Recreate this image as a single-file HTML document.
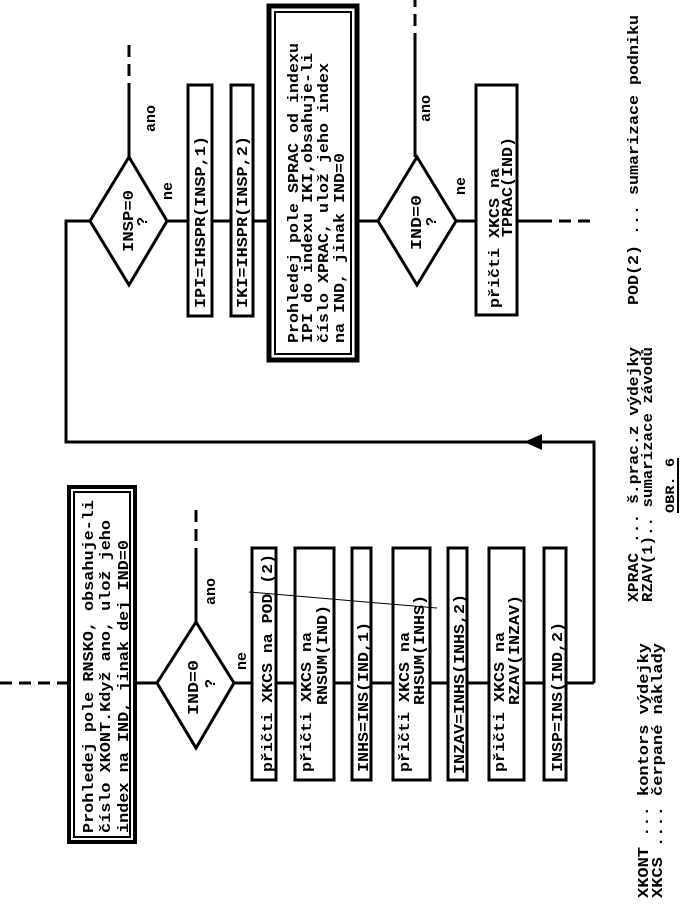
<!DOCTYPE html>
<html><head><meta charset="utf-8"><style>
html,body{margin:0;padding:0;background:#fff;}
svg{display:block}
text{font-family:"Liberation Mono",monospace;font-weight:bold;font-size:15px;fill:#000}
.l{stroke:#000;stroke-width:3;fill:none}
.b{stroke:#000;stroke-width:3;fill:#fff}
.d{stroke:#000;stroke-width:3;fill:none;stroke-dasharray:12,7}
</style></head><body>
<svg width="685" height="905" viewBox="0 0 685 905" xmlns="http://www.w3.org/2000/svg">
<line class="d" x1="0" y1="683" x2="68" y2="683"/>
<line class="l" x1="68" y1="683" x2="594" y2="683"/>
<rect x="69" y="487" width="66" height="355" fill="#fff" stroke="#000" stroke-width="4"/>
<rect x="74" y="492" width="56" height="345" fill="none" stroke="#000" stroke-width="2"/>
<text transform="translate(93,833) rotate(-90)" textLength="333" lengthAdjust="spacingAndGlyphs">Prohledej pole RNSKO, obsahuje-li</text>
<text transform="translate(110,833) rotate(-90)" textLength="313" lengthAdjust="spacingAndGlyphs">číslo XKONT.Když ano, ulož jeho</text>
<text transform="translate(128,833) rotate(-90)" textLength="293" lengthAdjust="spacingAndGlyphs">index na IND, jinak dej IND=0</text>
<polygon class="b" points="196,622 234,683 196,748 157,683"/>
<text transform="translate(198,715) rotate(-90)" textLength="55" lengthAdjust="spacingAndGlyphs">IND=0</text>
<text transform="translate(215,688) rotate(-90)">?</text>
<line class="l" x1="196" y1="622" x2="196" y2="560"/>
<line class="d" x1="196" y1="560" x2="196" y2="508"/>
<text transform="translate(215,605) rotate(-90)">ano</text>
<text transform="translate(246,670) rotate(-90)">ne</text>
<rect class="b" x="252" y="548" width="24" height="232"/>
<text transform="translate(272,772) rotate(-90)" textLength="218" lengthAdjust="spacingAndGlyphs">přičti XKCS na POD (2)</text>
<rect class="b" x="295" y="548" width="39" height="232"/>
<text transform="translate(311,772) rotate(-90)" textLength="140" lengthAdjust="spacingAndGlyphs">přičti XKCS na</text>
<text transform="translate(327,705) rotate(-90)" textLength="100" lengthAdjust="spacingAndGlyphs">RNSUM(IND)</text>
<rect class="b" x="352" y="548" width="19" height="232"/>
<text transform="translate(368,772) rotate(-90)" textLength="150" lengthAdjust="spacingAndGlyphs">INHS=INS(IND,1)</text>
<rect class="b" x="393" y="548" width="37" height="232"/>
<text transform="translate(409,772) rotate(-90)" textLength="140" lengthAdjust="spacingAndGlyphs">přičti XKCS na</text>
<text transform="translate(424,705) rotate(-90)" textLength="110" lengthAdjust="spacingAndGlyphs">RHSUM(INHS)</text>
<rect class="b" x="448" y="548" width="19" height="232"/>
<text transform="translate(464,774) rotate(-90)" textLength="180" lengthAdjust="spacingAndGlyphs">INZAV=INHS(INHS,2)</text>
<rect class="b" x="489" y="548" width="35" height="232"/>
<text transform="translate(504,772) rotate(-90)" textLength="140" lengthAdjust="spacingAndGlyphs">přičti XKCS na</text>
<text transform="translate(519,705) rotate(-90)" textLength="110" lengthAdjust="spacingAndGlyphs">RZAV(INZAV)</text>
<rect class="b" x="544" y="548" width="22" height="232"/>
<text transform="translate(562,772) rotate(-90)" textLength="150" lengthAdjust="spacingAndGlyphs">INSP=INS(IND,2)</text>
<line x1="249" y1="592" x2="437" y2="608" stroke="#000" stroke-width="1"/>
<polyline class="l" points="594,683 594,442 66,442 66,221 90,221"/>
<polygon points="524,442 542,434 542,450" fill="#000"/>
<polygon class="b" points="129,157 167,221 129,285 90,221"/>
<text transform="translate(133,252) rotate(-90)" textLength="62" lengthAdjust="spacingAndGlyphs">INSP=0</text>
<text transform="translate(147,226) rotate(-90)">?</text>
<line class="l" x1="129" y1="157" x2="129" y2="95"/>
<line class="d" x1="129" y1="95" x2="129" y2="45"/>
<text transform="translate(155,132) rotate(-90)">ano</text>
<text transform="translate(172,200) rotate(-90)">ne</text>
<line class="l" x1="167" y1="221" x2="273" y2="221"/>
<rect class="b" x="188" y="85" width="24" height="231"/>
<text transform="translate(205,308) rotate(-90)" textLength="172" lengthAdjust="spacingAndGlyphs">IPI=IHSPR(INSP,1)</text>
<rect class="b" x="231" y="85" width="22" height="231"/>
<text transform="translate(247,308) rotate(-90)" textLength="172" lengthAdjust="spacingAndGlyphs">IKI=IHSPR(INSP,2)</text>
<rect x="269" y="6" width="88" height="354" fill="#fff" stroke="#000" stroke-width="5"/>
<rect x="275" y="12" width="76" height="342" fill="none" stroke="#000" stroke-width="2"/>
<text transform="translate(298,343) rotate(-90)" textLength="300" lengthAdjust="spacingAndGlyphs">Prohledej pole SPRAC od indexu</text>
<text transform="translate(312,343) rotate(-90)" textLength="290" lengthAdjust="spacingAndGlyphs">IPI do indexu IKI,obsahuje-li</text>
<text transform="translate(328,343) rotate(-90)" textLength="280" lengthAdjust="spacingAndGlyphs">číslo XPRAC, ulož jeho index</text>
<text transform="translate(344,343) rotate(-90)" textLength="190" lengthAdjust="spacingAndGlyphs">na IND, jinak IND=0</text>
<line class="l" x1="357" y1="221" x2="378" y2="221"/>
<polygon class="b" points="417,157 456,221 417,285 378,221"/>
<text transform="translate(421,250) rotate(-90)" textLength="55" lengthAdjust="spacingAndGlyphs">IND=0</text>
<text transform="translate(436,226) rotate(-90)">?</text>
<line class="l" x1="415" y1="157" x2="415" y2="45"/>
<line class="d" x1="415" y1="45" x2="415" y2="0"/>
<text transform="translate(430,122) rotate(-90)">ano</text>
<text transform="translate(465,195) rotate(-90)">ne</text>
<line class="l" x1="456" y1="221" x2="476" y2="221"/>
<rect class="b" x="476" y="85" width="41" height="230"/>
<text transform="translate(499,308) rotate(-90)" textLength="140" lengthAdjust="spacingAndGlyphs">přičti XKCS na</text>
<text transform="translate(512,237) rotate(-90)" textLength="100" lengthAdjust="spacingAndGlyphs">TPRAC(IND)</text>
<line class="l" x1="517" y1="221" x2="540" y2="221"/>
<line class="d" x1="540" y1="221" x2="594" y2="221"/>
<text transform="translate(648,898) rotate(-90)" textLength="255" lengthAdjust="spacingAndGlyphs">XKONT ... kontors výdejky</text>
<text transform="translate(662,898) rotate(-90)" textLength="255" lengthAdjust="spacingAndGlyphs">XKCS .... čerpané náklady</text>
<text transform="translate(638,602) rotate(-90)" textLength="255" lengthAdjust="spacingAndGlyphs">XPRAC ... š.prac.z výdejky</text>
<text transform="translate(652,602) rotate(-90)" textLength="255" lengthAdjust="spacingAndGlyphs">RZAV(1).. sumarizace závodů</text>
<text transform="translate(638,305) rotate(-90)" textLength="290" lengthAdjust="spacingAndGlyphs">POD(2) ... sumarizace podniku</text>
<text transform="translate(674,513) rotate(-90)" textLength="55" lengthAdjust="spacingAndGlyphs" style="font-size:13px">OBR. 6</text>
<line x1="678" y1="513" x2="678" y2="458" stroke="#000" stroke-width="2"/>
</svg>
</body></html>
